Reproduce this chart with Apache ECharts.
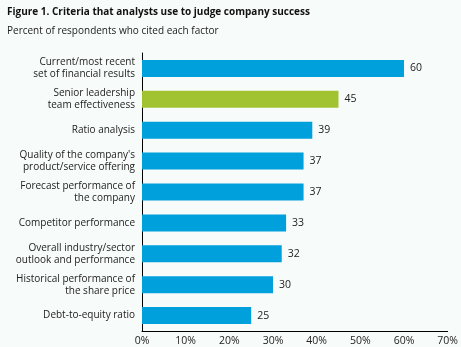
<!DOCTYPE html>
<html><head><meta charset="utf-8">
<script src="https://cdn.jsdelivr.net/npm/echarts@6/dist/echarts.min.js"></script>
<style>html,body{margin:0;padding:0;background:#f7fbf9}#c{width:461px;height:347px}</style>
</head><body><div id="c"></div>
<script>
const categories = [
  "Current/most recent\nset of financial results",
  "Senior leadership\nteam effectiveness",
  "Ratio analysis",
  "Quality of the company's\nproduct/service offering",
  "Forecast performance of\nthe company",
  "Competitor performance",
  "Overall industry/sector\noutlook and performance",
  "Historical performance of\nthe share price",
  "Debt-to-equity ratio"
];
const values = [60, 45, 39, 37, 37, 33, 32, 30, 25];
const highlightIndex = 1;
const xTicks = [0, 10, 20, 30, 40, 50, 60, 70];

const BLUE = '#00a0dc', GREEN = '#a2c331';
const FONT = '"Open Sans", "Noto Sans", sans-serif';
const chart = echarts.init(document.getElementById('c'), null, {renderer: 'canvas'});
chart.setOption({
  backgroundColor: '#f7fbf9',
  animation: false,
  title: [
    {text: 'Figure 1. Criteria that analysts use to judge company success', left: 2, top: 2,
     textStyle: {fontFamily: FONT, fontSize: 10, fontWeight: 'bold', color: '#111'}},
    {text: 'Percent of respondents who cited each factor', left: 2, top: 21,
     textStyle: {fontFamily: FONT, fontSize: 10, fontWeight: 'normal', color: '#222'}}
  ],
  grid: {left: 142, right: 11, top: 53, bottom: 16, containLabel: false},
  xAxis: {
    type: 'value', min: xTicks[0], max: xTicks[xTicks.length - 1], interval: 10,
    axisLine: {show: true, lineStyle: {color: '#000', width: 1}},
    axisTick: {show: false}, splitLine: {show: false},
    axisLabel: {formatter: v => v + '%', fontFamily: FONT, fontSize: 10.5, color: '#222', margin: 5}
  },
  yAxis: {
    type: 'category', inverse: true, data: categories,
    axisLine: {show: true, lineStyle: {color: '#000', width: 1}},
    axisTick: {show: false},
    axisLabel: {fontFamily: FONT, fontSize: 10, color: '#222', margin: 7, lineHeight: 12, align: 'right'}
  },
  series: [{
    type: 'bar', barWidth: '55%',
    data: values.map((v, i) => ({value: v, itemStyle: {color: i === highlightIndex ? GREEN : BLUE}})),
    label: {show: true, position: 'right', distance: 6, fontFamily: FONT, fontSize: 10.5, color: '#222'}
  }]
});
</script></body></html>
